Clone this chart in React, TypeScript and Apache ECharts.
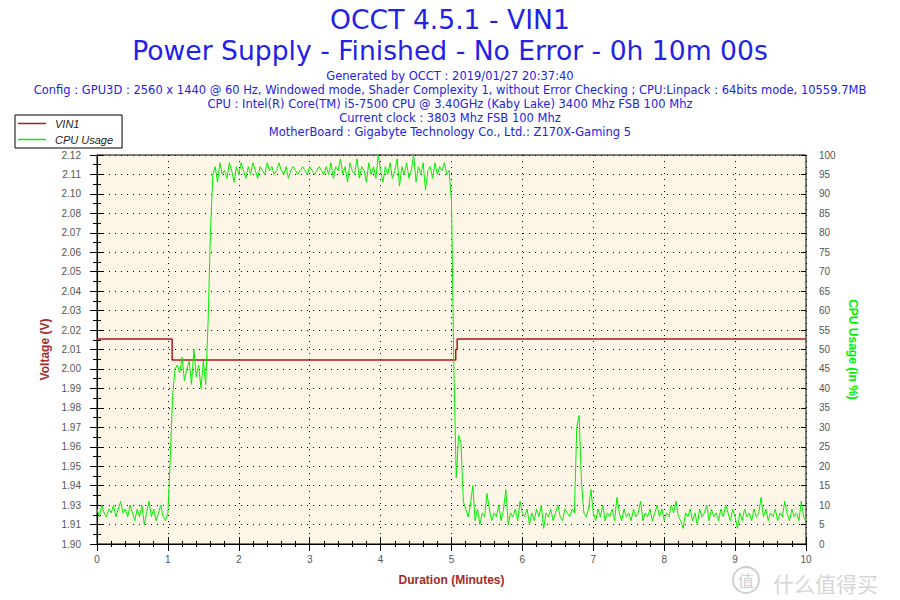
import React, { useEffect, useRef } from "react";
import * as echarts from "echarts";

const titleLines = [
  "OCCT 4.5.1 - VIN1",
  "Power Supply - Finished - No Error - 0h 10m 00s",
];

const infoLines = [
  "Generated by OCCT : 2019/01/27 20:37:40",
  "Config : GPU3D : 2560 x 1440 @ 60 Hz, Windowed mode, Shader Complexity 1, without Error Checking ; CPU:Linpack : 64bits mode, 10559.7MB",
  "CPU : Intel(R) Core(TM) i5-7500 CPU @ 3.40GHz (Kaby Lake) 3400 Mhz FSB 100 Mhz",
  "Current clock : 3803 Mhz FSB 100 Mhz",
  "MotherBoard : Gigabyte Technology Co., Ltd.: Z170X-Gaming 5",
];

const legendNames = ["VIN1", "CPU Usage"];

// left axis tick labels, bottom to top (as printed by OCCT)
const voltLabels = [
  "1.90", "1.91", "1.93", "1.94", "1.95", "1.96", "1.97", "1.98", "1.99", "2.00",
  "2.01", "2.02", "2.03", "2.04", "2.05", "2.06", "2.07", "2.08", "2.10", "2.11", "2.12",
];

// VIN1 step curve (minutes, volts)
const vinTimes = [0, 1.06, 1.06, 5.06, 5.06, 5.08, 5.08, 10];
const vinVolts = [2.016, 2.016, 2.004, 2.004, 2.010, 2.010, 2.016, 2.016];

// CPU usage (%), one sample every 2 seconds from 0 to 10 minutes
const cpuSampleMinutes = 2 / 60;
const cpuUsage = [
  // 0 - 0.967 min
  9, 7, 10, 8, 7, 9, 8, 10, 7, 9, 11, 8, 9, 7, 10, 8, 6, 9, 7, 10, 5, 8, 11, 7, 9, 6, 8, 10, 7, 6,
  // 1.0 - 1.6
  8, 22, 38, 45, 46, 44, 48, 42, 45, 47, 41, 50, 43, 46, 40, 47, 41, 57, 80,
  // plateau
  95, 97, 93, 98, 95, 96, 94, 98, 96, 93, 97, 95,
  98, 96, 94, 97, 95, 98, 96, 94, 97, 96, 95, 98,
  96, 97, 95, 96, 98, 96, 95, 97, 94, 96, 97, 96,
  95, 96, 97, 96, 95, 97, 96, 95, 96, 97, 96, 95,
  97, 95, 98, 94, 97, 96, 99, 95, 97, 93, 98, 96,
  95, 99, 94, 97, 96, 93, 98, 95, 97, 94, 100, 96,
  93, 97, 95, 98, 94, 96, 99, 92, 97, 95, 98, 94,
  96, 100, 93, 97, 95, 98, 91, 96, 97, 94, 98, 95,
  97, 96, 98, 95, 96,
  // fall at 5.0
  88, 45, 17, 28, 26, 11,
  // 5.2 - 6.733
  9, 7, 10, 15, 6, 9, 5, 8, 7, 13, 9, 6, 8, 7, 10, 6, 9, 14, 5, 8, 7, 9, 6, 11, 8, 7, 9, 5, 8, 6,
  9, 7, 10, 4, 8, 7, 9, 6, 8, 10, 7, 6, 9, 8, 7, 9, 8,
  // spike ~6.8
  30, 33, 16, 8,
  // 6.9 - 10
  7, 9, 14, 8, 6, 9, 7, 10, 6, 8, 7, 9, 6, 12, 8, 6, 9, 7, 8, 6, 9, 7, 8, 11, 6, 8, 7, 9, 6, 8,
  10, 7, 9, 6, 8, 7, 10, 8, 11, 7, 6, 4, 8, 7, 9, 6, 8, 5, 9, 7, 8, 10, 6, 9, 7, 8, 6, 9, 7, 10,
  8, 6, 9, 7, 4, 8, 6, 9, 7, 8, 6, 9, 7, 8, 12, 7, 9, 6, 8, 7, 9, 6, 8, 7, 11, 8, 6, 9, 7, 8,
  6, 11, 7, 6,
];

const BLUE = "#2222E6";
const DARKRED = "#A52A2A";
const VIN_COLOR = "#AE1A1A";
const CPU_COLOR = "#00F000";
const FONT = "'Liberation Sans', Arial, sans-serif";
const WIDE_FONT = "'DejaVu Sans', Verdana, sans-serif";

export default function App() {
  const ref = useRef<HTMLDivElement>(null);

  useEffect(() => {
    if (!ref.current) return;
    const chart = echarts.init(ref.current, undefined, { renderer: "svg" });

    const vinData = vinTimes.map((t, i) => [t, vinVolts[i]]);
    const cpuData = cpuUsage.map((v, i) => [i * cpuSampleMinutes, v]);

    const dotted = { color: "#000", width: 1, type: [1, 5] as any };
    const tickLabel = { color: "#555", fontSize: 10, fontFamily: FONT };
    const blackLine = { show: true, lineStyle: { color: "#000", width: 1 } };

    const titles: any[] = [
      {
        text: titleLines[0], left: "center", top: 6, padding: 0,
        textStyle: { color: BLUE, fontSize: 26.6, fontWeight: "normal", fontFamily: WIDE_FONT },
      },
      {
        text: titleLines[1], left: "center", top: 37, padding: 0,
        textStyle: { color: BLUE, fontSize: 26.6, fontWeight: "normal", fontFamily: WIDE_FONT },
      },
    ];
    infoLines.forEach((t, i) => {
      titles.push({
        text: t, left: "center", top: 70 + i * 14, padding: 0,
        textStyle: { color: BLUE, fontSize: 11.5, fontWeight: "normal", fontFamily: WIDE_FONT },
      });
    });

    const option: any = {
      animation: false,
      backgroundColor: "#fff",
      title: titles,
      legend: {
        left: 15, top: 115, orient: "vertical",
        backgroundColor: "#fff", borderColor: "#000", borderWidth: 1, borderRadius: 0,
        padding: [3, 9, 3, 3],
        itemGap: 5, itemWidth: 28, itemHeight: 1.5, icon: "rect",
        textStyle: { fontStyle: "italic", fontSize: 11, color: "#222", fontFamily: FONT, padding: [0, 0, 0, 4] },
        data: legendNames,
      },
      grid: {
        left: 97, right: 94, top: 155, bottom: 56,
        show: true, backgroundColor: "#FDF5E6", borderColor: "#000", borderWidth: 1,
      },
      xAxis: [
        {
          type: "value", min: 0, max: 10, interval: 1, position: "bottom",
          axisLine: blackLine,
          axisTick: { show: true, inside: false, length: 7, lineStyle: { color: "#000" } },
          minorTick: { show: true, splitNumber: 5, length: 3, lineStyle: { color: "#000" } },
          axisLabel: { ...tickLabel, margin: 10 },
          splitLine: { show: true, lineStyle: dotted },
          name: "Duration (Minutes)", nameLocation: "middle", nameGap: 30,
          nameTextStyle: { color: DARKRED, fontWeight: "bold", fontSize: 12, fontFamily: FONT },
        },
        {
          type: "value", min: 0, max: 10, interval: 1, position: "bottom",
          axisLine: { show: false },
          axisTick: { show: true, inside: true, length: 7, lineStyle: { color: "#000" } },
          minorTick: { show: true, splitNumber: 5, length: 3, lineStyle: { color: "#000" } },
          axisLabel: { show: false },
          splitLine: { show: false },
        },
      ],
      yAxis: [
        {
          // voltage scale used by VIN1
          type: "value", min: 1.9, max: 2.12, position: "left", show: false,
        },
        {
          type: "value", min: 0, max: 100, interval: 5, position: "right",
          axisLine: blackLine,
          axisTick: { show: true, inside: false, length: 7, lineStyle: { color: "#000" } },
          minorTick: { show: true, splitNumber: 2, length: 4, lineStyle: { color: "#000" } },
          axisLabel: { ...tickLabel, margin: 13 },
          splitLine: { show: false },
          name: "CPU Usage (in %)", nameLocation: "middle", nameGap: 33, nameRotate: -90,
          nameTextStyle: { color: CPU_COLOR, fontWeight: "bold", fontSize: 12, fontFamily: FONT },
        },
        {
          // printed voltage tick positions (20 equal steps)
          type: "value", min: 0, max: 20, interval: 1, position: "left",
          axisLine: blackLine,
          axisTick: { show: true, inside: false, length: 7, lineStyle: { color: "#000" } },
          minorTick: { show: true, splitNumber: 2, length: 4, lineStyle: { color: "#000" } },
          axisLabel: { ...tickLabel, margin: 16, formatter: (v: number) => voltLabels[Math.round(v)] ?? "" },
          splitLine: { show: true, lineStyle: dotted },
          name: "Voltage (V)", nameLocation: "middle", nameGap: 40, nameRotate: 90,
          nameTextStyle: { color: DARKRED, fontWeight: "bold", fontSize: 12, fontFamily: FONT },
        },
        {
          type: "value", min: 0, max: 20, interval: 1, position: "left",
          axisLine: { show: false },
          axisTick: { show: true, inside: true, length: 6, lineStyle: { color: "#000" } },
          minorTick: { show: true, splitNumber: 2, length: 3, lineStyle: { color: "#000" } },
          axisLabel: { show: false },
          splitLine: { show: false },
        },
        {
          type: "value", min: 0, max: 100, interval: 5, position: "right",
          axisLine: { show: false },
          axisTick: { show: true, inside: true, length: 5, lineStyle: { color: "#000" } },
          minorTick: { show: false },
          axisLabel: { show: false },
          splitLine: { show: false },
        },
      ],
      series: [
        {
          name: legendNames[0], type: "line", xAxisIndex: 0, yAxisIndex: 0,
          data: vinData, symbol: "none", showSymbol: false,
          lineStyle: { color: VIN_COLOR, width: 1.5 }, itemStyle: { color: VIN_COLOR },
        },
        {
          name: legendNames[1], type: "line", xAxisIndex: 0, yAxisIndex: 1,
          data: cpuData, symbol: "none", showSymbol: false,
          lineStyle: { color: CPU_COLOR, width: 1 }, itemStyle: { color: CPU_COLOR },
        },
      ],
      graphic: [
        {
          type: "circle", shape: { cx: 746, cy: 580, r: 13 },
          style: { fill: "none", stroke: "#d0d0d0", lineWidth: 2 }, silent: true,
        },
        {
          type: "text", x: 746, y: 580,
          style: {
            text: "值", fill: "#d0d0d0", fontSize: 16, fontFamily: "'Noto Sans CJK SC'",
            align: "center", verticalAlign: "middle",
          },
          silent: true,
        },
        {
          type: "text", x: 773, y: 583,
          style: {
            text: "什么值得买", fill: "#d6d6d6", fontSize: 21, fontFamily: "'Noto Sans CJK SC'",
            align: "left", verticalAlign: "middle",
          },
          silent: true,
        },
      ],
    };

    chart.setOption(option);
    return () => chart.dispose();
  }, []);

  return (
    <div
      ref={ref}
      style={{ position: "fixed", left: 0, top: 0, width: 900, height: 600, background: "#fff" }}
    />
  );
}
